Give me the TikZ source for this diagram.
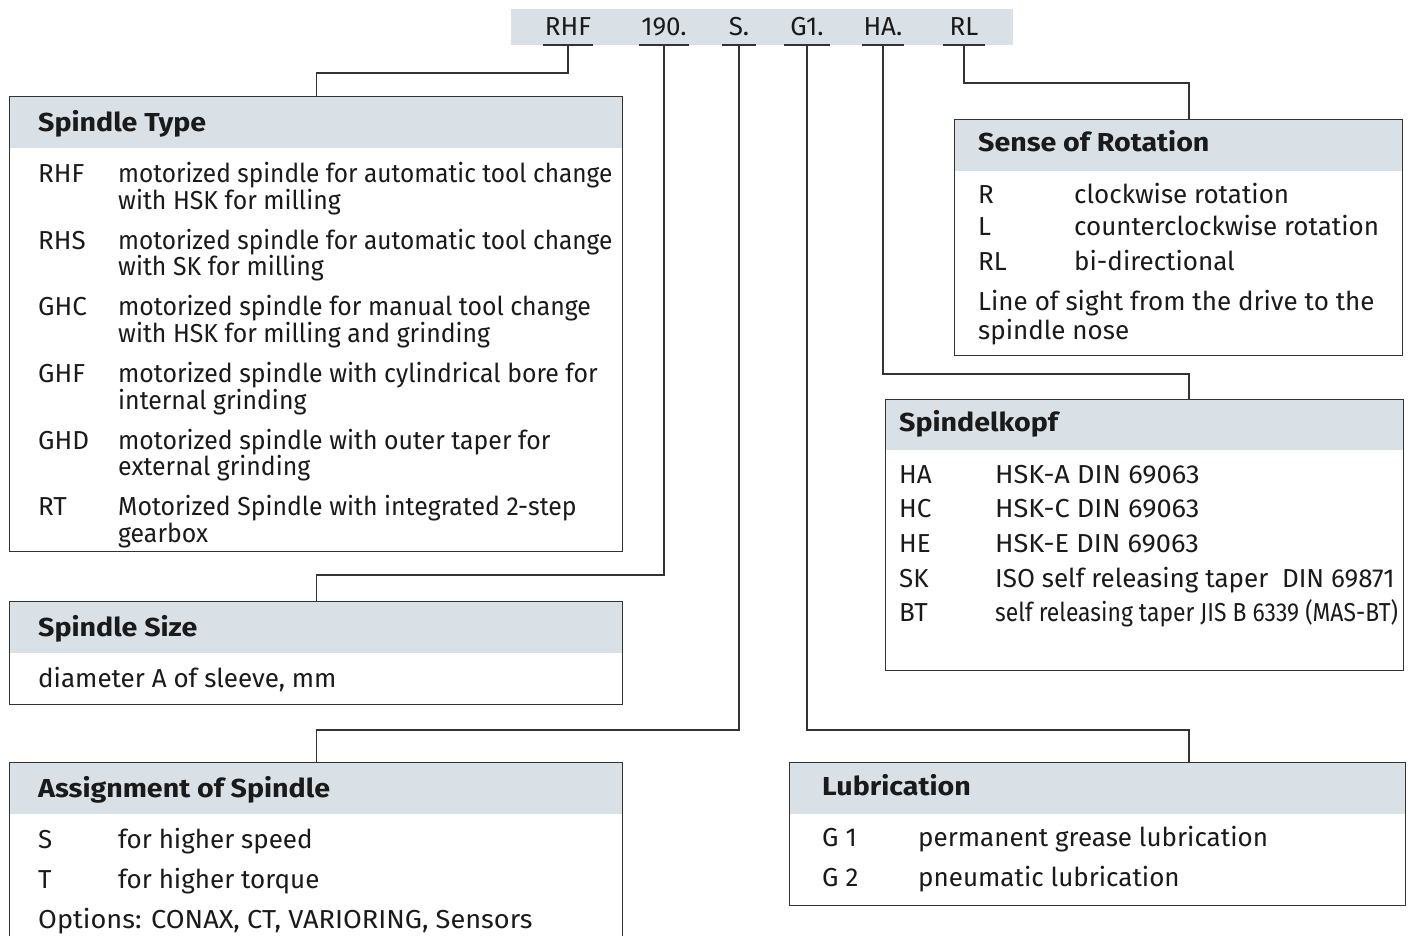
\documentclass[tikz,border=0pt]{standalone}
\usepackage{fontspec}
\setmainfont{Fira Sans}
\newfontfamily\condfont[FakeStretch=0.88]{Fira Sans}
\newfontfamily\narrowfont[FakeStretch=0.955]{Fira Sans}
\newfontfamily\narrowerfont[FakeStretch=0.94]{Fira Sans}
\newfontfamily\widefont[FakeStretch=1.045]{Fira Sans}
\newfontfamily\titlefont[FakeStretch=1.1]{Fira Sans Bold}
\usetikzlibrary{calc}
\definecolor{headc}{HTML}{D9E0E6}
\definecolor{linec}{HTML}{333333}
\definecolor{textc}{HTML}{1A1A1A}
\tikzset{
  box/.style={draw=linec, line width=1.4pt, anchor=north west, inner sep=0pt,
    path picture={\fill[headc] (path picture bounding box.north west) rectangle ([yshift=-#1]path picture bounding box.north east);}},
  box/.default=51pt,
  conn/.style={draw=linec, line width=1.3pt},
  txt/.style={anchor=base west, inner sep=0pt, text=textc, font=\fontsize{26}{30}\selectfont},
  ntxt/.style={txt, font=\fontsize{26}{30}\narrowfont},
  nntxt/.style={txt, font=\fontsize{26}{30}\narrowerfont},
  wtxt/.style={txt, font=\fontsize{26}{30}\widefont},
  ttl/.style={anchor=base west, inner sep=0pt, text=textc, font=\fontsize{26}{30}\titlefont},
  code/.style={anchor=south, inner sep=0pt, text height=18pt, text depth=9pt, text=textc, font=\fontsize{26}{30}\selectfont},
}
\begin{document}
\begin{tikzpicture}[x=1pt,y=-1pt]
\clip (0,0) rectangle (1411,935);
\useasboundingbox (0,0) rectangle (1411,935);
% code bar
\fill[headc] (511,9) rectangle (1013,45);
\node[code, minimum width=50pt] (rhf) at (568,45) {RHF};
\node[code, minimum width=50pt] (n190) at (664,45) {190.};
\node[code, minimum width=33pt] (cs) at (739,45) {S.};
\node[code, minimum width=46pt] (g1) at (807,45) {G1.};
\node[code, minimum width=42pt] (ha) at (883,45) {HA.};
\node[code, minimum width=42pt] (rl) at (964,45) {RL};
\foreach \n in {rhf,n190,cs,g1,ha,rl}{\draw[conn] (\n.south west) -- (\n.south east);}
\coordinate (rx) at (1189,0);
% boxes
\node[box, minimum width=613pt, minimum height=455pt] (st) at (9,96) {};
\node[box, minimum width=613pt, minimum height=103pt] (ss) at (9,601) {};
\node[box, minimum width=613pt, minimum height=220pt] (as) at (9,762) {};
\node[box, minimum width=448pt, minimum height=236pt] (sr) at (954,119) {};
\node[box, minimum width=518pt, minimum height=271pt, box=50pt] (sk) at (885,399) {};
\node[box, minimum width=616pt, minimum height=143pt] (lu) at (789,762) {};
% connectors
\draw[conn] (rhf.south) -- ++(0,28) -| (st.north);
\draw[conn] (n190.south) -- ++(0,530) -| (ss.north);
\draw[conn] (cs.south) -- ++(0,685) -| (as.north);
\draw[conn] (g1.south) -- ++(0,685) -| (lu.north -| rx);
\draw[conn] (ha.south) -- ++(0,329) -| (sk.north -| rx);
\draw[conn] (rl.south) -- ++(0,38) -| (sr.north -| rx);
% Spindle Type
\node[ttl] (stt) at (38,131) {Spindle Type};
\node[txt] (st1a) at (38,182) {RHF};
\node[nntxt] (st1b) at (118,182) {motorized spindle for automatic tool change};
\node[ntxt] (st1c) at (118,209) {with HSK for milling};
\node[txt] (st2a) at (38,249) {RHS};
\node[nntxt] (st2b) at (118,249) {motorized spindle for automatic tool change};
\node[ntxt] (st2c) at (118,275) {with SK for milling};
\node[txt] (st3a) at (38,315) {GHC};
\node[ntxt] (st3b) at (118,315) {motorized spindle for manual tool change};
\node[ntxt] (st3c) at (118,342) {with HSK for milling and grinding};
\node[txt] (st4a) at (38,382) {GHF};
\node[ntxt] (st4b) at (118,382) {motorized spindle with cylindrical bore for};
\node[ntxt] (st4c) at (118,409) {internal grinding};
\node[txt] (st5a) at (38,449) {GHD};
\node[ntxt] (st5b) at (118,449) {motorized spindle with outer taper for};
\node[ntxt] (st5c) at (118,475) {external grinding};
\node[txt] (st6a) at (38,515) {RT};
\node[ntxt] (st6b) at (118,515) {Motorized Spindle with integrated 2-step};
\node[ntxt] (st6c) at (118,542) {gearbox};
% Spindle Size
\node[ttl] (sst) at (38,636) {Spindle Size};
\node[txt] (ss1) at (38,687) {diameter A of sleeve, mm};
% Assignment
\node[ttl] (ast) at (38,797) {Assignment of Spindle};
\node[txt] (as1a) at (38,848) {S};
\node[txt] (as1b) at (118,848) {for higher speed};
\node[txt] (as2a) at (38,888) {T};
\node[txt] (as2b) at (118,888) {for higher torque};
\node[wtxt] (as3) at (38,928) {Options: CONAX, CT, VARIORING, Sensors};
% Sense of Rotation
\node[ttl] (srt) at (978,151) {Sense of Rotation};
\node[txt] (sr1a) at (978,203) {R};
\node[txt] (sr1b) at (1074,203) {clockwise rotation};
\node[txt] (sr2a) at (978,235) {L};
\node[txt] (sr2b) at (1074,235) {counterclockwise rotation};
\node[txt] (sr3a) at (978,270) {RL};
\node[txt] (sr3b) at (1074,270) {bi-directional};
\node[txt] (sr4) at (978,310) {Line of sight from the drive to the};
\node[txt] (sr5) at (978,339) {spindle nose};
% Spindelkopf
\node[ttl] (skt) at (899,431) {Spindelkopf};
\node[txt] (sk1a) at (899,483) {HA};
\node[wtxt] (sk1b) at (995,483) {HSK-A DIN 69063};
\node[txt] (sk2a) at (899,517) {HC};
\node[wtxt] (sk2b) at (995,517) {HSK-C DIN 69063};
\node[txt] (sk3a) at (899,552) {HE};
\node[wtxt] (sk3b) at (995,552) {HSK-E DIN 69063};
\node[txt] (sk4a) at (899,587) {SK};
\node[txt] (sk4b) at (995,587) {ISO self releasing taper\ \ DIN 69871};
\node[txt] (sk5a) at (899,621) {BT};
\node[txt, font=\fontsize{26}{30}\condfont] (sk5b) at (995,621) {self releasing taper JIS B 6339 (MAS-BT)};
% Lubrication
\node[ttl] (lut) at (822,795) {Lubrication};
\node[txt] (lu1a) at (822,846) {G 1};
\node[txt] (lu1b) at (918,846) {permanent grease lubrication};
\node[txt] (lu2a) at (822,886) {G 2};
\node[txt] (lu2b) at (918,886) {pneumatic lubrication};
\end{tikzpicture}
\end{document}
